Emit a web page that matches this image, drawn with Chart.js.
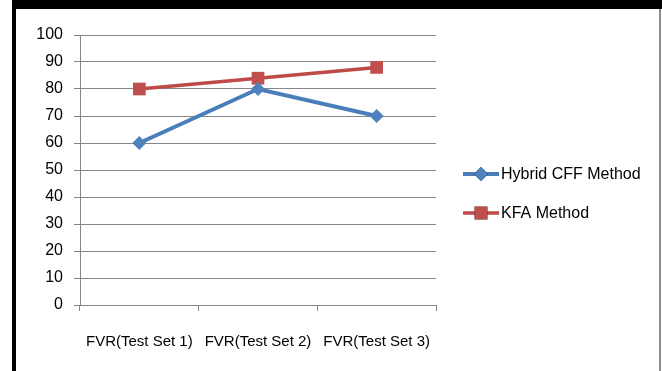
<!DOCTYPE html>
<html>
<head>
<meta charset="utf-8">
<script src="https://cdn.jsdelivr.net/npm/chart.js@4"></script>
<style>
  html, body { margin: 0; padding: 0; background: #fff; }
  #wrap { position: relative; width: 662px; height: 371px; overflow: hidden; }
  #frame-top { position: absolute; left: 12px; top: 0; width: 650px; height: 9px; background: #000; }
  #frame-left { position: absolute; left: 12px; top: 0; width: 4px; height: 371px; background: #000; }
  #frame-right { position: absolute; left: 659px; top: 9px; width: 2px; height: 362px; background: #8c8c8c; }
  canvas { position: absolute; left: 0; top: 0; }
</style>
</head>
<body>
<div id="wrap">
  <div id="frame-top"></div>
  <div id="frame-left"></div>
  <div id="frame-right"></div>
  <canvas id="chart" width="662" height="371"></canvas>
</div>
<script>
  // chart data
  var categories = ['FVR(Test Set 1)', 'FVR(Test Set 2)', 'FVR(Test Set 3)'];
  var seriesNames = ['Hybrid CFF Method', 'KFA Method'];
  var hybridValues = [60, 80, 70];
  var kfaValues = [80, 84, 88];
  var yTicks = [0, 10, 20, 30, 40, 50, 60, 70, 80, 90, 100];

  var FONT = "'Liberation Sans', Arial, sans-serif";
  var GRID = '#868686';

  // legend drawn at the right, same look as the office chart
  var sideLegend = {
    id: 'sideLegend',
    afterDraw: function (chart) {
      var ctx = chart.ctx;
      var x0 = chart.chartArea.right + 27;
      var rows = [174, 213];
      ctx.save();
      chart.data.datasets.forEach(function (ds, i) {
        var y = rows[i];
        ctx.strokeStyle = ds.borderColor;
        ctx.lineWidth = ds.borderWidth;
        ctx.beginPath();
        ctx.moveTo(x0, y);
        ctx.lineTo(x0 + 36, y);
        ctx.stroke();
        Chart.helpers.drawPoint(ctx, {
          pointStyle: ds.pointStyle,
          radius: ds.pointRadius,
          borderWidth: 0
        }, x0 + 18, y);
        ctx.fillStyle = ds.pointBackgroundColor;
        ctx.fill();
        ctx.fillStyle = '#000';
        ctx.font = '16px ' + FONT;
        ctx.textAlign = 'left';
        ctx.textBaseline = 'middle';
        ctx.fillText(ds.label, x0 + 38, y + 1);
      });
      ctx.restore();
    }
  };

  new Chart(document.getElementById('chart'), {
    type: 'line',
    data: {
      labels: categories,
      datasets: [
        {
          label: seriesNames[0],
          data: hybridValues,
          borderColor: '#4A7EBB',
          borderWidth: 4,
          pointStyle: 'rectRot',
          pointRadius: 7,
          pointBackgroundColor: '#4F81BD',
          pointBorderColor: '#4F81BD',
          pointBorderWidth: 0,
          tension: 0
        },
        {
          label: seriesNames[1],
          data: kfaValues,
          borderColor: '#BE4B48',
          borderWidth: 3.5,
          pointStyle: 'rect',
          pointRadius: 9,
          pointBackgroundColor: '#C0504D',
          pointBorderColor: '#C0504D',
          pointBorderWidth: 0,
          tension: 0
        }
      ]
    },
    options: {
      responsive: false,
      animation: false,
      layout: { padding: { left: 0, right: 226, top: 35, bottom: 0 } },
      plugins: {
        legend: { display: false },
        tooltip: { enabled: false }
      },
      scales: {
        x: {
          offset: true,
          grid: { drawOnChartArea: false, color: GRID, tickLength: 6, offset: true },
          border: { color: GRID, width: 1 },
          ticks: { color: '#000', padding: 22, autoSkip: false, maxRotation: 0, font: { family: FONT, size: 15 } },
          afterFit: function (scale) { scale.height = 66; }
        },
        y: {
          min: 0,
          max: 100,
          afterBuildTicks: function (scale) {
            scale.ticks = yTicks.map(function (v) { return { value: v }; });
          },
          grid: { color: GRID, tickLength: 6 },
          border: { color: GRID, width: 1 },
          ticks: { color: '#000', padding: 11, font: { family: FONT, size: 16 } },
          afterFit: function (scale) { scale.width = 80; }
        }
      }
    },
    plugins: [sideLegend]
  });
</script>
</body>
</html>
